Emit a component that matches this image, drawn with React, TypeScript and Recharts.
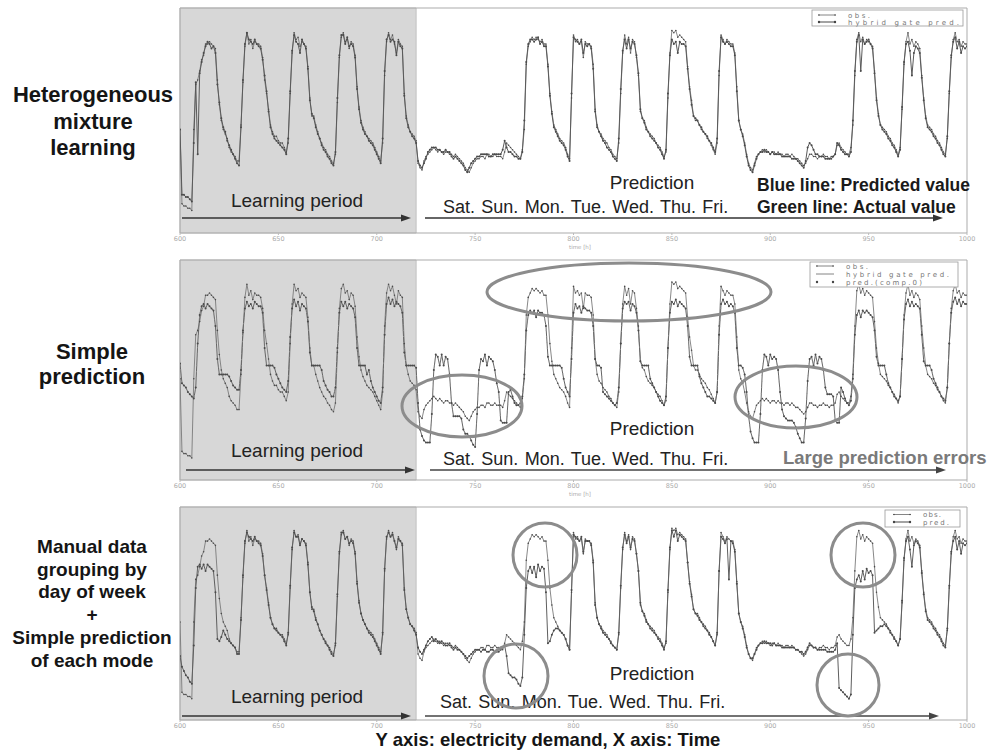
import React from "react";
import { ComposedChart, Line, ReferenceArea, XAxis, YAxis } from "recharts";

const FONT = "'Liberation Sans', Arial, Helvetica, sans-serif";
const START_HOUR = 600;
const LEARNING_END = 720;
const xTicks = [600, 650, 700, 750, 800, 850, 900, 950, 1000];
const yTicks = [0, 18, 37, 55, 73, 92];

// hourly electricity demand, one row per day starting at t = 600 h
const observed = [
  46, 13, 12, 12, 11, 11, 10, 46, 66, 68, 72, 77, 79, 84, 84, 85, 84, 83, 82, 68, 57, 50, 46, 44,
  42, 38, 36, 35, 34, 32, 32, 48, 67, 83, 89, 84, 86, 82, 85, 84, 84, 83, 78, 68, 62, 55, 48, 45,
  43, 43, 41, 40, 40, 38, 36, 40, 62, 80, 89, 86, 87, 83, 85, 84, 83, 74, 60, 52, 52, 48, 45, 42,
  40, 38, 37, 35, 34, 32, 31, 35, 58, 78, 87, 89, 85, 86, 82, 85, 84, 79, 65, 56, 50, 47, 45, 43,
  42, 41, 40, 38, 36, 34, 32, 40, 70, 85, 89, 86, 88, 84, 80, 86, 84, 83, 62, 52, 48, 45, 44, 43,
  41, 31, 29, 28, 32, 34, 35, 36, 37, 38, 37, 36, 37, 36, 35, 36, 36, 35, 35, 34, 35, 34, 33, 32,
  31, 29, 28, 27, 29, 31, 32, 33, 33, 34, 34, 33, 35, 35, 34, 34, 35, 34, 34, 34, 33, 36, 40, 39,
  38, 37, 36, 35, 34, 33, 37, 46, 75, 83, 85, 87, 86, 87, 86, 85, 86, 84, 84, 75, 62, 54, 48, 46,
  44, 42, 41, 40, 38, 35, 33, 60, 88, 85, 86, 84, 85, 78, 85, 84, 84, 83, 75, 55, 48, 45, 44, 42,
  41, 40, 38, 37, 35, 34, 33, 40, 62, 80, 88, 84, 87, 80, 86, 85, 78, 70, 54, 51, 50, 47, 45, 44,
  43, 42, 40, 39, 38, 36, 34, 36, 60, 80, 90, 89, 90, 87, 88, 87, 86, 85, 74, 65, 59, 52, 50, 50,
  48, 46, 45, 44, 42, 41, 39, 37, 35, 40, 70, 88, 86, 84, 86, 85, 84, 84, 80, 65, 50, 46, 44, 40,
  35, 31, 29, 28, 31, 34, 35, 36, 37, 36, 37, 36, 35, 36, 36, 35, 36, 35, 35, 34, 35, 35, 34, 35,
  34, 33, 33, 32, 31, 30, 31, 33, 35, 35, 34, 34, 33, 34, 34, 35, 34, 34, 33, 34, 34, 35, 39, 40,
  38, 37, 36, 35, 35, 38, 48, 70, 86, 89, 85, 87, 84, 86, 85, 84, 83, 72, 60, 53, 48, 47, 46, 45,
  43, 42, 40, 39, 37, 35, 38, 55, 75, 85, 89, 84, 86, 83, 85, 84, 82, 70, 60, 52, 48, 47, 46, 44,
  43, 41, 40, 38, 36, 35, 42, 62, 78, 86, 89, 85, 86, 83, 85, 84, 84,
];

// heterogeneous mixture learning, hybrid gate prediction
const hmlPred = [
  46, 17, 17, 16, 16, 15, 14, 40, 67, 35, 71, 76, 80, 83, 85, 84, 82, 83, 80, 66, 58, 51, 47, 45,
  41, 39, 37, 35, 33, 31, 30, 47, 68, 84, 89, 86, 85, 84, 86, 84, 83, 82, 77, 70, 63, 54, 47, 44,
  42, 41, 40, 39, 38, 37, 35, 42, 63, 81, 88, 85, 84, 80, 86, 84, 82, 73, 59, 53, 51, 47, 44, 42,
  39, 37, 36, 34, 33, 31, 30, 36, 60, 79, 88, 88, 84, 87, 83, 84, 83, 78, 64, 55, 49, 46, 44, 43,
  41, 40, 39, 37, 35, 33, 31, 42, 72, 86, 88, 85, 86, 85, 79, 85, 83, 82, 61, 51, 47, 45, 43, 42,
  40, 32, 30, 29, 31, 33, 36, 37, 38, 38, 38, 37, 37, 36, 36, 37, 36, 36, 34, 33, 34, 33, 32, 31,
  30, 28, 27, 29, 31, 32, 33, 34, 34, 35, 35, 35, 35, 34, 34, 35, 35, 35, 35, 35, 37, 41, 38, 36,
  36, 35, 34, 34, 33, 33, 36, 50, 76, 84, 86, 86, 85, 86, 87, 84, 85, 83, 83, 74, 61, 53, 47, 45,
  43, 41, 40, 39, 37, 34, 32, 62, 87, 86, 85, 84, 86, 80, 84, 83, 84, 82, 73, 54, 47, 45, 43, 41,
  40, 38, 37, 36, 34, 33, 32, 42, 64, 81, 86, 82, 86, 82, 85, 84, 79, 71, 55, 51, 49, 46, 45, 43,
  42, 41, 40, 38, 37, 35, 33, 37, 62, 79, 86, 84, 85, 80, 85, 84, 84, 83, 73, 64, 57, 52, 51, 50,
  48, 47, 45, 44, 43, 41, 40, 38, 36, 42, 72, 87, 85, 84, 85, 84, 83, 83, 79, 63, 50, 46, 43, 39,
  34, 30, 28, 27, 30, 33, 35, 36, 36, 37, 36, 36, 35, 36, 35, 35, 35, 35, 34, 34, 34, 34, 34, 33,
  33, 33, 32, 31, 30, 29, 32, 38, 40, 39, 37, 35, 35, 34, 34, 34, 33, 33, 33, 33, 34, 35, 40, 39,
  37, 36, 35, 35, 34, 36, 50, 72, 85, 88, 72, 86, 84, 85, 86, 84, 82, 71, 59, 52, 48, 46, 45, 44,
  42, 41, 39, 38, 36, 34, 37, 56, 76, 84, 85, 81, 70, 80, 83, 82, 80, 69, 59, 51, 47, 46, 45, 43,
  42, 40, 39, 37, 35, 34, 43, 63, 79, 85, 87, 82, 85, 80, 83, 82, 83,
];

// simple prediction (single component, so comp.0 equals the gate prediction)
const simplePred = [
  53, 44, 43, 42, 40, 39, 38, 37, 42, 62, 75, 79, 80, 78, 80, 79, 78, 77, 70, 55, 48, 48, 48, 48,
  48, 47, 45, 43, 42, 41, 41, 50, 68, 78, 81, 79, 80, 78, 81, 80, 79, 79, 76, 60, 52, 52, 52, 52,
  51, 48, 46, 44, 42, 41, 40, 45, 65, 78, 82, 79, 81, 77, 80, 79, 78, 72, 58, 52, 52, 52, 52, 52,
  50, 45, 43, 41, 40, 38, 38, 42, 60, 76, 81, 79, 81, 78, 80, 79, 78, 74, 60, 52, 52, 52, 52, 48,
  50, 45, 42, 40, 38, 36, 35, 42, 66, 80, 83, 80, 82, 79, 81, 80, 79, 76, 58, 52, 52, 52, 52, 52,
  51, 35, 23, 20, 18, 17, 17, 17, 30, 50, 57, 56, 52, 57, 52, 56, 55, 48, 35, 29, 29, 29, 29, 28,
  23, 21, 21, 20, 18, 16, 15, 30, 50, 55, 54, 57, 52, 56, 55, 54, 50, 44, 40, 27, 26, 26, 26, 40,
  41, 38, 35, 34, 34, 35, 38, 48, 68, 75, 77, 76, 77, 74, 77, 76, 76, 75, 70, 56, 52, 52, 52, 52,
  52, 52, 51, 46, 42, 40, 38, 55, 76, 80, 78, 79, 76, 79, 78, 77, 77, 76, 70, 55, 52, 52, 51, 40,
  39, 38, 37, 36, 35, 34, 35, 42, 62, 78, 81, 80, 81, 77, 80, 79, 76, 68, 54, 52, 52, 52, 52, 46,
  44, 42, 40, 38, 36, 35, 34, 38, 60, 76, 81, 80, 82, 79, 81, 80, 79, 78, 70, 56, 52, 52, 52, 52,
  47, 44, 42, 40, 38, 38, 37, 36, 35, 40, 66, 80, 82, 80, 81, 79, 80, 79, 76, 60, 52, 52, 51, 48,
  40, 29, 22, 19, 17, 17, 17, 30, 50, 57, 56, 52, 57, 55, 56, 55, 50, 40, 32, 29, 28, 27, 27, 27,
  26, 24, 21, 19, 17, 17, 28, 45, 55, 56, 52, 57, 53, 56, 55, 50, 42, 39, 39, 39, 38, 27, 26, 26,
  42, 40, 37, 35, 34, 36, 46, 66, 75, 77, 74, 77, 76, 77, 76, 75, 74, 68, 56, 52, 52, 52, 52, 48,
  44, 42, 40, 38, 37, 36, 38, 55, 73, 80, 82, 79, 81, 79, 80, 79, 78, 66, 54, 52, 52, 52, 50, 46,
  44, 42, 40, 38, 37, 36, 42, 62, 76, 81, 83, 80, 82, 79, 81, 80, 80,
];

// manual grouping by day of week + simple prediction of each mode
const groupedPred = [
  30, 25, 23, 21, 20, 18, 17, 35, 62, 72, 73, 71, 73, 70, 73, 72, 71, 70, 60, 38, 37, 39, 42, 40,
  38, 37, 36, 35, 34, 31, 31, 47, 68, 84, 88, 86, 85, 84, 86, 84, 83, 82, 77, 68, 61, 54, 48, 45,
  43, 42, 41, 40, 39, 37, 35, 41, 63, 81, 88, 86, 86, 82, 85, 84, 82, 73, 60, 53, 51, 47, 45, 42,
  40, 38, 36, 35, 33, 31, 30, 36, 59, 79, 88, 88, 85, 86, 83, 84, 83, 78, 64, 55, 50, 47, 45, 43,
  41, 40, 39, 37, 35, 33, 31, 41, 71, 86, 88, 86, 87, 84, 81, 85, 84, 82, 61, 52, 48, 45, 44, 42,
  40, 34, 32, 31, 33, 35, 37, 38, 39, 37, 38, 37, 36, 37, 36, 35, 35, 36, 34, 33, 34, 33, 33, 32,
  31, 30, 29, 30, 31, 32, 33, 33, 33, 32, 33, 33, 32, 32, 33, 33, 32, 32, 32, 33, 34, 35, 30, 22,
  21, 20, 20, 19, 17, 16, 20, 40, 62, 70, 72, 69, 72, 67, 73, 70, 72, 71, 60, 36, 37, 40, 42, 43,
  43, 42, 41, 40, 38, 35, 33, 61, 87, 86, 85, 84, 86, 79, 84, 84, 84, 82, 74, 54, 48, 45, 43, 41,
  40, 39, 38, 36, 35, 34, 33, 41, 63, 81, 87, 83, 86, 81, 85, 84, 78, 70, 55, 51, 49, 46, 45, 43,
  42, 41, 40, 38, 37, 35, 33, 37, 61, 81, 89, 86, 89, 84, 87, 86, 85, 84, 74, 64, 58, 52, 50, 49,
  47, 46, 44, 43, 42, 40, 39, 37, 35, 41, 70, 86, 85, 83, 85, 66, 84, 83, 79, 64, 50, 46, 43, 39,
  34, 31, 29, 29, 31, 33, 35, 36, 36, 37, 36, 36, 36, 35, 36, 35, 35, 35, 34, 34, 34, 34, 34, 34,
  34, 33, 33, 32, 32, 31, 32, 34, 36, 35, 34, 34, 33, 33, 33, 33, 33, 32, 32, 32, 32, 33, 36, 15,
  14, 13, 12, 11, 10, 12, 40, 62, 66, 68, 65, 70, 66, 71, 69, 70, 68, 41, 42, 43, 44, 44, 45, 44,
  43, 41, 40, 38, 37, 35, 38, 56, 76, 84, 86, 80, 72, 82, 84, 83, 81, 69, 59, 51, 47, 46, 45, 43,
  42, 40, 39, 37, 35, 34, 43, 63, 79, 84, 86, 80, 84, 78, 83, 82, 83,
];

const rows = observed.map((v, i) => ({
  t: START_HOUR + i,
  obs: v,
  hml: hmlPred[i],
  simple: simplePred[i],
  grouped: groupedPred[i],
}));

type SeriesDef = {
  key: string;
  stroke: string;
  width: number;
  dotR: number;
  dash?: string;
};

type PanelProps = {
  top: number;
  height: number;
  marginTop: number;
  axisHeight: number;
  series: SeriesDef[];
};

const Panel: React.FC<PanelProps> = ({ top, height, marginTop, axisHeight, series }) => (
  <div style={{ position: "absolute", left: 0, top }}>
    <ComposedChart
      data={rows}
      height={height}
      margin={{ top: marginTop, right: 29, bottom: 0, left: 180 }}
      width={996}
    >
      <XAxis
        allowDataOverflow
        axisLine={false}
        dataKey="t"
        domain={[START_HOUR, 1000]}
        height={axisHeight}
        interval={0}
        tick={{ fill: "#ababab", fontSize: 6.5, fontFamily: "DejaVu Sans" }}
        tickLine={{ stroke: "#bbb" }}
        tickMargin={1}
        tickSize={2}
        ticks={xTicks}
        type="number"
      />
      <YAxis
        axisLine={false}
        domain={[0, 100]}
        mirror
        tickFormatter={() => ""}
        tickLine={{ stroke: "#bbb" }}
        tickSize={3}
        ticks={yTicks}
        width={0}
      />
      <ReferenceArea
        fill="#d7d7d7"
        fillOpacity={1}
        stroke="#c2c2c2"
        x1={START_HOUR}
        x2={LEARNING_END}
        y1={0}
        y2={100}
      />
      {series.map((s) => (
        <Line
          activeDot={false}
          dataKey={s.key}
          dot={s.dotR > 0 ? { r: s.dotR, fill: "#4a4a4a", stroke: "none" } : false}
          isAnimationActive={false}
          key={s.key + (s.dash ?? "")}
          stroke={s.stroke}
          strokeDasharray={s.dash}
          strokeWidth={s.width}
          type="linear"
        />
      ))}
      <ReferenceArea
        fill="none"
        stroke="#ababab"
        x1={START_HOUR}
        x2={1000}
        y1={0}
        y2={100}
      />
    </ComposedChart>
  </div>
);

const Arrow: React.FC<{ x1: number; x2: number; y: number; color?: string }> = ({
  x1,
  x2,
  y,
  color = "#333",
}) => (
  <g>
    <line stroke={color} strokeWidth={1.6} x1={x1} x2={x2 - 8} y1={y} y2={y} />
    <path d={`M${x2 - 10},${y - 3.5} L${x2},${y} L${x2 - 10},${y + 3.5} Z`} fill={color} />
  </g>
);

const LegendRow: React.FC<{ x: number; y: number; label: string; len: number; kind: string }> = ({
  x,
  y,
  label,
  len,
  kind,
}) => (
  <g>
    {kind !== "dots" && (
      <line stroke="#666" strokeWidth={kind === "bold" ? 1.2 : 0.8} x1={x} x2={x + 18} y1={y} y2={y} />
    )}
    {kind !== "plain" && (
      <>
        <circle cx={x + 1} cy={y} fill="#444" r={kind === "thin" ? 0.7 : 1.2} />
        <circle cx={x + 17} cy={y} fill="#444" r={kind === "thin" ? 0.7 : 1.2} />
      </>
    )}
    <text
      fill="#777"
      fontFamily="DejaVu Sans"
      fontSize={7}
      lengthAdjust="spacing"
      textLength={len}
      x={x + 30}
      y={y + 2.5}
    >
      {label}
    </text>
  </g>
);

const WEEK = "Sat. Sun. Mon. Tue. Wed. Thu. Fri.";

const Overlay: React.FC = () => (
  <svg
    fontFamily={FONT}
    height={751}
    style={{ position: "absolute", left: 0, top: 0, pointerEvents: "none" }}
    width={996}
  >
    {/* row titles */}
    <g fill="#151515" fontWeight="bold" textAnchor="middle">
      <text fontSize={22} x={93} y={102}>Heterogeneous</text>
      <text fontSize={22} x={93} y={129}>mixture</text>
      <text fontSize={22} x={93} y={155}>learning</text>
      <text fontSize={22} x={92} y={359}>Simple</text>
      <text fontSize={22} x={92} y={384}>prediction</text>
      <text fontSize={19} x={92} y={553}>Manual data</text>
      <text fontSize={19} x={92} y={576}>grouping by</text>
      <text fontSize={19} x={92} y={598}>day of week</text>
      <text fontSize={19} x={92} y={621}>+</text>
      <text fontSize={19} x={92} y={644}>Simple prediction</text>
      <text fontSize={19} x={92} y={667}>of each mode</text>
    </g>

    {/* panel 1 */}
    <g fill="#222">
      <text fontSize={19} textAnchor="middle" x={297} y={207}>Learning period</text>
      <text fontSize={19} textAnchor="middle" x={652} y={189}>Prediction</text>
      <text fontSize={18} wordSpacing={1.3} x={443} y={213}>{WEEK}</text>
    </g>
    <g fill="#1a1a1a" fontSize={17.5} fontWeight="bold">
      <text x={757} y={191}>Blue line: Predicted value</text>
      <text x={757} y={213}>Green line: Actual value</text>
    </g>
    <Arrow x1={182} x2={411} y={218} />
    <Arrow x1={425} x2={943} y={218} />

    {/* panel 2 */}
    <g fill="#222">
      <text fontSize={19} textAnchor="middle" x={297} y={457}>Learning period</text>
      <text fontSize={19} textAnchor="middle" x={652} y={435}>Prediction</text>
      <text fontSize={18} wordSpacing={1.3} x={443} y={465}>{WEEK}</text>
    </g>
    <text fill="#7a7a7a" fontSize={18.5} fontWeight="bold" x={783} y={464}>
      Large prediction errors
    </text>
    <Arrow x1={186} x2={415} y={470} />
    <Arrow color="#444" x1={430} x2={946} y={470} />
    <g fill="none" stroke="#8c8c8c" strokeWidth={3}>
      <ellipse cx={629} cy={292} rx={142} ry={29} />
      <ellipse cx={462} cy={406} rx={60} ry={31} />
      <ellipse cx={796} cy={397} rx={61} ry={31} />
    </g>

    {/* panel 3 */}
    <g fill="#222">
      <text fontSize={19} textAnchor="middle" x={297} y={703}>Learning period</text>
      <text fontSize={19} textAnchor="middle" x={652} y={680}>Prediction</text>
      <text fontSize={18} wordSpacing={1.3} x={440} y={708}>{WEEK}</text>
    </g>
    <Arrow x1={182} x2={411} y={716} />
    <Arrow color="#444" x1={425} x2={939} y={716} />
    <g fill="none" stroke="#8c8c8c" strokeWidth={3}>
      <circle cx={545} cy={555} r={32} />
      <circle cx={516} cy={676} r={32} />
      <circle cx={863} cy={555} r={32} />
      <circle cx={848} cy={685} r={31} />
    </g>

    {/* legends */}
    <rect fill="#fff" height={16} stroke="#999" strokeWidth={0.8} width={151} x={812} y={10} />
    <LegendRow kind="thin" label="obs." len={22} x={818} y={15} />
    <LegendRow kind="bold" label="hybrid gate pred." len={111} x={818} y={22} />

    <rect fill="#fff" height={25} stroke="#999" strokeWidth={0.8} width={148} x={810} y={262} />
    <LegendRow kind="thin" label="obs." len={22} x={816} y={266} />
    <LegendRow kind="plain" label="hybrid gate pred." len={103} x={816} y={274} />
    <LegendRow kind="dots" label="pred.(comp.0)" len={76} x={816} y={282} />

    <rect fill="#fff" height={17} stroke="#999" strokeWidth={0.8} width={75} x={885} y={510} />
    <LegendRow kind="thin" label="obs." len={18} x={893} y={514.5} />
    <LegendRow kind="bold" label="pred." len={26} x={893} y={522} />

    {/* x axis names, set below the tick labels */}
    <g fill="#ababab" fontFamily="DejaVu Sans" fontSize={5.5} textAnchor="middle">
      <text x={580} y={249}>time [h]</text>
      <text x={580} y={496}>time [h]</text>
    </g>

    <text fill="#151515" fontSize={18.5} fontWeight="bold" textAnchor="middle" x={548} y={746}>
      Y axis: electricity demand, X axis: Time
    </text>
  </svg>
);

const obsStyle: SeriesDef = { key: "obs", stroke: "#7a7a7a", width: 0.9, dotR: 0.8 };

export default function App() {
  return (
    <div
      style={{
        position: "absolute",
        left: 0,
        top: 0,
        width: 996,
        height: 751,
        background: "#fff",
        overflow: "hidden",
      }}
    >
      <Panel
        axisHeight={17}
        height={250}
        marginTop={8}
        series={[obsStyle, { key: "hml", stroke: "#5a5a5a", width: 1, dotR: 1 }]}
        top={0}
      />
      <Panel
        axisHeight={20}
        height={250}
        marginTop={10}
        series={[
          obsStyle,
          { key: "simple", stroke: "#666", width: 1, dotR: 1 },
          { key: "simple", stroke: "#999", width: 0.8, dotR: 0, dash: "1 5" },
        ]}
        top={250}
      />
      <Panel
        axisHeight={20}
        height={240}
        marginTop={7}
        series={[obsStyle, { key: "grouped", stroke: "#5f5f5f", width: 1, dotR: 1 }]}
        top={500}
      />
      <Overlay />
    </div>
  );
}
